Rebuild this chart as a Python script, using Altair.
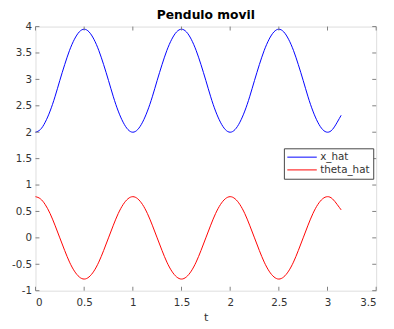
import altair as alt
import pandas as pd

t = [0.00, 0.05, 0.10, 0.15, 0.20, 0.25, 0.30, 0.35, 0.40, 0.45,
     0.50, 0.55, 0.60, 0.65, 0.70, 0.75, 0.80, 0.85, 0.90, 0.95,
     1.00, 1.05, 1.10, 1.15, 1.20, 1.25, 1.30, 1.35, 1.40, 1.45,
     1.50, 1.55, 1.60, 1.65, 1.70, 1.75, 1.80, 1.85, 1.90, 1.95,
     2.00, 2.05, 2.10, 2.15, 2.20, 2.25, 2.30, 2.35, 2.40, 2.45,
     2.50, 2.55, 2.60, 2.65, 2.70, 2.75, 2.80, 2.85, 2.90, 2.95,
     3.00, 3.05, 3.10, 3.14]

x_hat = [2.00, 2.05, 2.19, 2.40, 2.67, 2.98, 3.28, 3.55, 3.76, 3.90,
         3.95, 3.90, 3.76, 3.55, 3.28, 2.98, 2.67, 2.40, 2.19, 2.05,
         2.00, 2.05, 2.19, 2.40, 2.67, 2.98, 3.28, 3.55, 3.76, 3.90,
         3.95, 3.90, 3.76, 3.55, 3.28, 2.98, 2.67, 2.40, 2.19, 2.05,
         2.00, 2.05, 2.19, 2.40, 2.67, 2.98, 3.28, 3.55, 3.76, 3.90,
         3.95, 3.90, 3.76, 3.55, 3.28, 2.98, 2.67, 2.40, 2.19, 2.05,
         2.00, 2.05, 2.19, 2.32]

theta_hat = [0.78, 0.74, 0.63, 0.46, 0.24, 0.00, -0.24, -0.46, -0.63, -0.74,
             -0.78, -0.74, -0.63, -0.46, -0.24, 0.00, 0.24, 0.46, 0.63, 0.74,
             0.78, 0.74, 0.63, 0.46, 0.24, 0.00, -0.24, -0.46, -0.63, -0.74,
             -0.78, -0.74, -0.63, -0.46, -0.24, 0.00, 0.24, 0.46, 0.63, 0.74,
             0.78, 0.74, 0.63, 0.46, 0.24, 0.00, -0.24, -0.46, -0.63, -0.74,
             -0.78, -0.74, -0.63, -0.46, -0.24, 0.00, 0.24, 0.46, 0.63, 0.74,
             0.78, 0.74, 0.63, 0.53]

x_ticks = [0, 0.5, 1, 1.5, 2, 2.5, 3, 3.5]
y_ticks = [-1, -0.5, 0, 0.5, 1, 1.5, 2, 2.5, 3, 3.5, 4]
series_names = ["x_hat", "theta_hat"]
series_colors = ["#0000ff", "#ff0000"]

W, H = 347, 269
AX = "#808080"
LBL = "#333333"

df = pd.concat([
    pd.DataFrame({"t": t, "v": x_hat, "s": "x_hat"}),
    pd.DataFrame({"t": t, "v": theta_hat, "s": "theta_hat"}),
])

xs = alt.Scale(domain=[0, 3.5], nice=False, zero=False)
ys = alt.Scale(domain=[-1, 4], nice=False, zero=False)

xaxis = alt.Axis(values=x_ticks, labelExpr="'' + datum.value", grid=False,
                 ticks=False, domain=False, labelPadding=7, labelOverlap=False,
                 labelColor=LBL, labelFontSize=10.5, titleFontSize=11.5,
                 titleFontWeight="normal", titleColor=LBL, titlePadding=4)
yaxis = alt.Axis(values=y_ticks, labelExpr="'' + datum.value", grid=False,
                 ticks=False, domain=False, labelPadding=4, labelOverlap=False,
                 labelColor=LBL, labelFontSize=10.5)

lines = alt.Chart(df).mark_line(strokeWidth=1, interpolate="natural").encode(
    x=alt.X("t:Q", scale=xs, title="t", axis=xaxis),
    y=alt.Y("v:Q", scale=ys, title="", axis=yaxis),
    color=alt.Color("s:N", scale=alt.Scale(domain=series_names, range=series_colors),
                    sort=series_names, title=None,
                    legend=alt.Legend(orient="none", legendX=253, legendY=124,
                                      strokeColor="#444444", fillColor="white",
                                      padding=3, symbolType="stroke", symbolSize=900,
                                      clipHeight=12,
                                      symbolStrokeWidth=1, labelFontSize=10.5,
                                      labelColor=LBL, rowPadding=1, labelOffset=3,
                                      cornerRadius=0)),
)

xt = pd.DataFrame({"x": x_ticks})
yt = pd.DataFrame({"y": y_ticks})

xb = alt.Chart(xt).mark_rule(color=AX, strokeWidth=1).encode(
    x=alt.X("x:Q", scale=xs, title="t", axis=xaxis), y=alt.value(H), y2=alt.value(H - 4))
xtop = alt.Chart(xt).mark_rule(color=AX, strokeWidth=1).encode(
    x=alt.X("x:Q", scale=xs, title="t", axis=xaxis), y=alt.value(0), y2=alt.value(4))
yl = alt.Chart(yt).mark_rule(color=AX, strokeWidth=1).encode(
    y=alt.Y("y:Q", scale=ys, title="", axis=yaxis), x=alt.value(0), x2=alt.value(4))
yr = alt.Chart(yt).mark_rule(color=AX, strokeWidth=1).encode(
    y=alt.Y("y:Q", scale=ys, title="", axis=yaxis), x=alt.value(W), x2=alt.value(W - 4))

chart = alt.layer(lines, xb, xtop, yl, yr).properties(
    width=W, height=H,
    title=alt.TitleParams("Pendulo movil", fontSize=12.5, fontWeight="bold",
                          color="#000000", offset=0, anchor="middle"),
    autosize=alt.AutoSizeParams(type="none"),
    padding={"left": 28, "top": 16, "right": 10, "bottom": 30},
).configure_view(stroke=AX, strokeWidth=1).configure(
    font="DejaVu Sans"
)

chart.save("out.html", embed_options={"renderer": "svg", "actions": False})
